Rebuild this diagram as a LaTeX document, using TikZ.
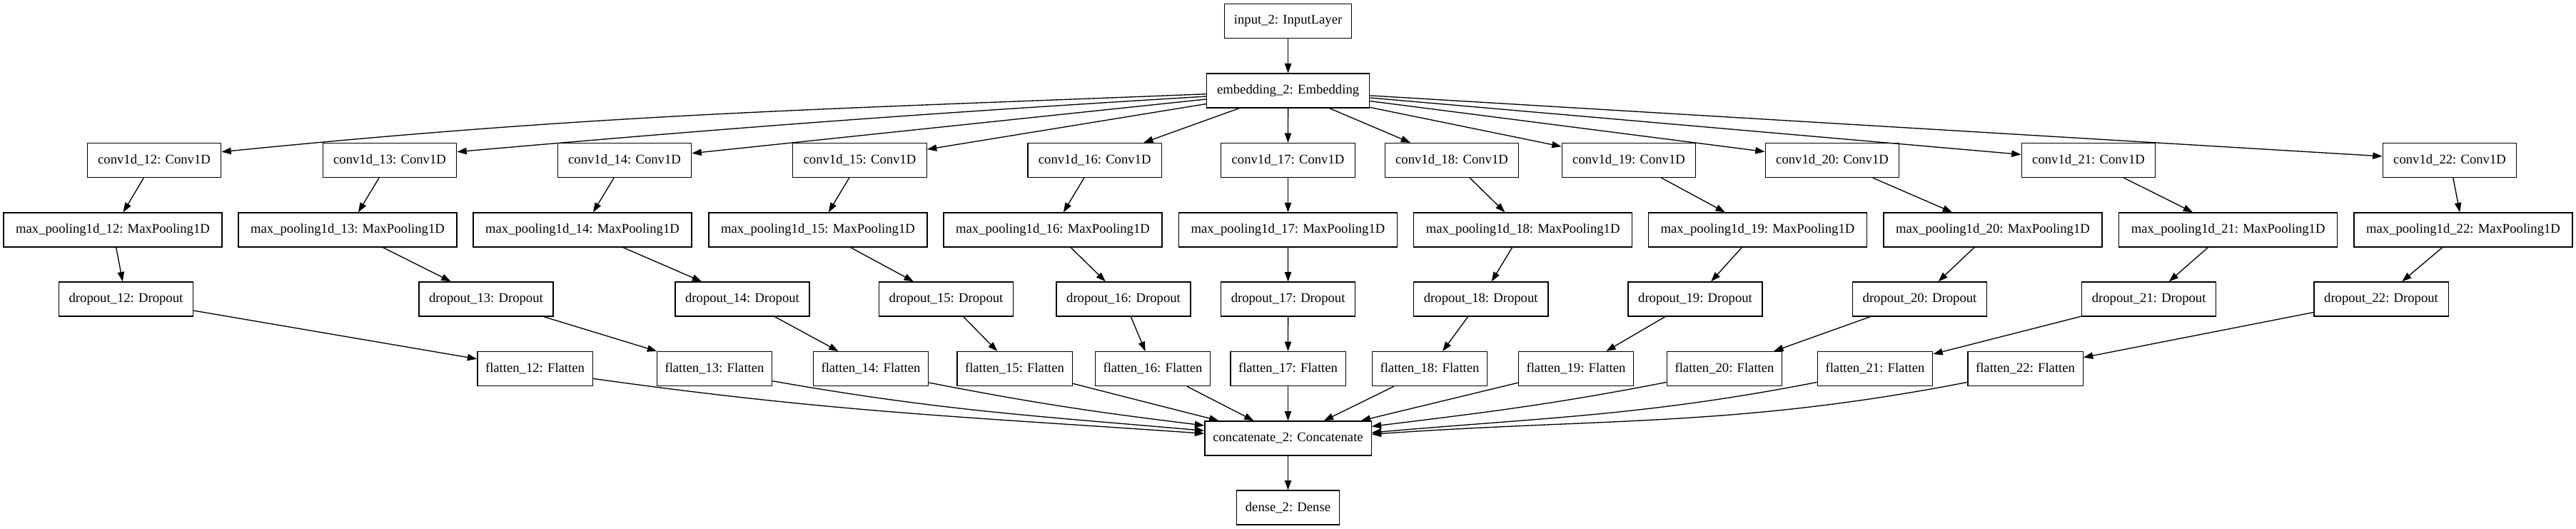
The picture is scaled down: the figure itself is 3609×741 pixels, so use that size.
\documentclass[tikz,border=0pt]{standalone}
\usepackage{fontspec}
\setmainfont{Liberation Serif}
\usetikzlibrary{arrows.meta,calc}
\begin{document}
\begin{tikzpicture}[x=0.75pt,y=-0.75pt,
  box/.style={draw=black, line width=1pt, inner sep=0pt, minimum height=36pt, font=\fontsize{14}{16}\selectfont},
  inbox/.style={box, minimum width=133.2pt},
  embbox/.style={box, minimum width=171pt},
  convbox/.style={box, minimum width=140.6pt},
  mpbox/.style={box, minimum width=229.4pt},
  dropbox/.style={box, minimum width=141.2pt},
  flatbox/.style={box, minimum width=121pt},
  catbox/.style={box, minimum width=175pt},
  densebox/.style={box, minimum width=107.9pt},
  conn/.style={line width=1pt, -{Triangle[length=10pt,width=7pt]}}]
\useasboundingbox (0,0) rectangle (3609,741);
\fill[white] (0,0) rectangle (3609,741);

\node[inbox] (inp) at (1804.6,29.8) {input\_2: InputLayer};
\node[embbox] (emb) at (1804.6,127) {embedding\_2: Embedding};

% conv row
\foreach \i/\x in {12/216,13/546,14/875,15/1204.5,16/1533.7,17/1804.5,18/2034,19/2282,20/2567,21/2926,22/3432}
  \node[convbox] (c\i) at (\x,224.5) {conv1d\_\i: Conv1D};
% max pooling row
\foreach \i/\x in {12/158,13/487,14/816,15/1146,16/1475,17/1804.5,18/2133.6,19/2462.5,20/2792,21/3121.6,22/3451}
  \node[mpbox] (m\i) at (\x,322) {max\_pooling1d\_\i: MaxPooling1D};
% dropout row
\foreach \i/\x in {12/176.5,13/681,14/1040,15/1325.5,16/1574,17/1804.6,18/2074.7,19/2375,20/2689.5,21/3010.6,22/3336}
  \node[dropbox] (d\i) at (\x,419) {dropout\_\i: Dropout};
% flatten row
\foreach \i/\x in {12/749.5,13/1001,14/1220,15/1421.5,16/1615,17/1804.5,18/2003,19/2208,20/2416,21/2627,22/2837.5}
  \node[flatbox] (f\i) at (\x,516.6) {flatten\_\i: Flatten};

\node[catbox] (cat) at (1804.5,614) {concatenate\_2: Concatenate};
\node[densebox] (dense) at (1804.5,711) {dense\_2: Dense};

% edges
\draw[conn] (inp) -- (emb);
\draw[conn] ($(emb.west)+(0,4.7)$) .. controls +(-540.6,21.7) and +(538,-53.7) .. ($(c12.east)+(0,-11.8)$);
\draw[conn] ($(emb.west)+(0,8)$) .. controls +(-412.2,25.2) and +(411.4,-36) .. ($(c13.east)+(0,-11.8)$);
\foreach \i in {14,...,22}
  \draw[conn] (emb) -- (c\i);
\foreach \i in {12,...,22}{
  \draw[conn] (c\i) -- (m\i);
  \draw[conn] (m\i) -- (d\i);
  \draw[conn] (d\i) -- (f\i);
}
\foreach \i in {15,...,19}
  \draw[conn] (f\i) -- (cat);
\draw[conn] ($(f12.east)+(0,13.7)$) .. controls +(333.7,46.9) and +(-336.2,-23.5) .. ($(cat.west)+(0,-6.7)$);
\draw[conn] ($(f13.east)+(0,17.1)$) .. controls +(235.1,41.4) and +(-237.8,-20.8) .. ($(cat.west)+(0,-10.7)$);
\draw[conn] ($(f14.east)+(0,19.4)$) .. controls +(150.2,29.2) and +(-151.9,-18.6) .. ($(cat.west)+(0,-18)$);
\draw[conn] ($(f20.west)+(0,18.8)$) .. controls +(-161,31.3) and +(162.8,-20) .. ($(cat.east)+(0,-16.7)$);
\draw[conn] ($(f21.west)+(0,18.8)$) .. controls +(-241.5,46.9) and +(245,-21.4) .. ($(cat.east)+(0,-8)$);
\draw[conn] ($(f22.west)+(0,18.8)$) .. controls +(-322.6,62.7) and +(327.8,-22.9) .. ($(cat.east)+(0,-5.7)$);
\draw[conn] (cat) -- (dense);
\end{tikzpicture}
\end{document}
